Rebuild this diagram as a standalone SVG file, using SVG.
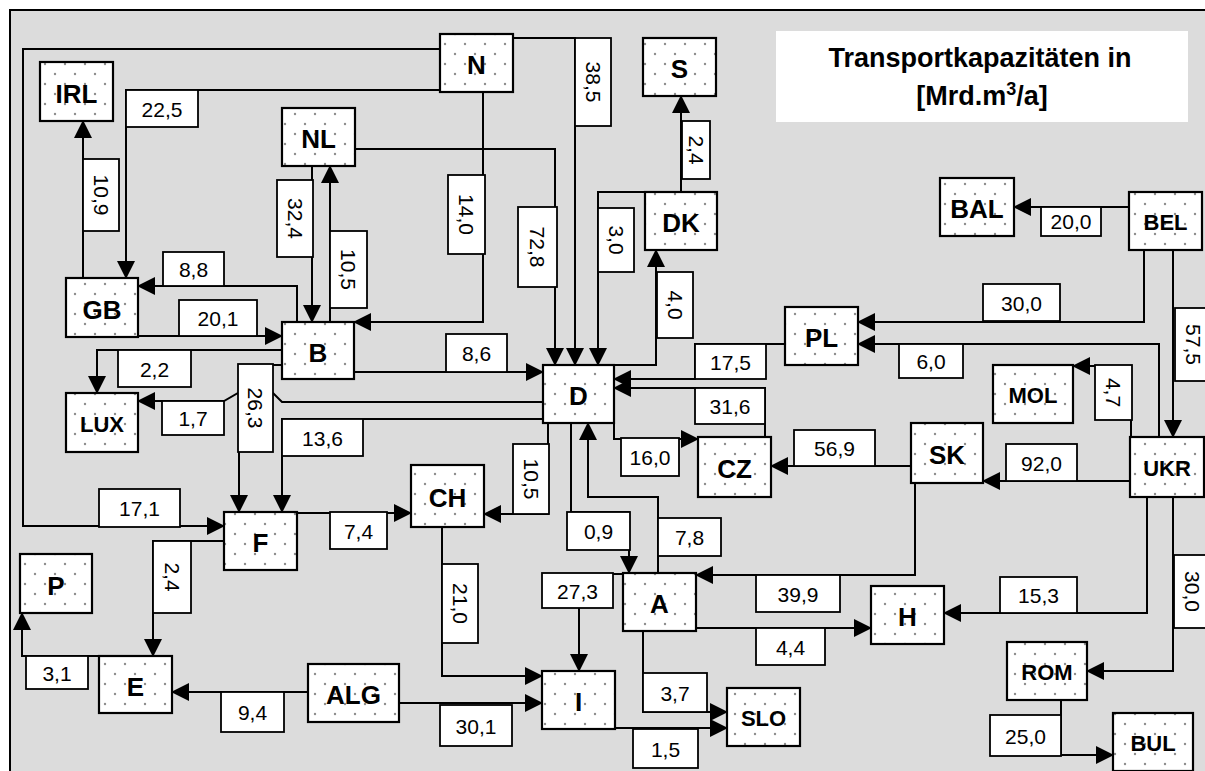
<svg xmlns="http://www.w3.org/2000/svg" width="1205" height="771" viewBox="0 0 1205 771">
<defs>
<pattern id="dots" patternUnits="userSpaceOnUse" width="20" height="20">
<rect width="20" height="20" fill="#ffffff"/>
<circle cx="5" cy="4" r="1.2" fill="#8c8c8c"/>
<circle cx="15" cy="14" r="1.2" fill="#8c8c8c"/>
</pattern>
<marker id="ah" viewBox="0 0 18 18" markerWidth="18" markerHeight="18" refX="17" refY="9" orient="auto" markerUnits="userSpaceOnUse">
<path d="M0,0 L18,9 L0,18 z" fill="#000"/>
</marker>
<style>
.node rect{fill:url(#dots);stroke:#000;stroke-width:2.2}
.node text{font-family:"Liberation Sans",Arial,sans-serif;font-weight:bold;font-size:26px;text-anchor:middle;fill:#000}
.node text.sm{font-size:22px}
.conn path{fill:none;stroke:#000;stroke-width:2;marker-end:url(#ah)}
.lbl rect{fill:#fff;stroke:#000;stroke-width:1.8}
.lbl text{font-family:"Liberation Sans",Arial,sans-serif;font-size:21px;text-anchor:middle;fill:#000}
.title{font-family:"Liberation Sans",Arial,sans-serif;font-weight:bold;font-size:27px;text-anchor:middle;fill:#000}
</style>
</defs>
<rect x="10" y="10" width="1210" height="780" fill="#dcdcdc" stroke="#000" stroke-width="2"/>
<g id="title">
<rect x="776" y="31" width="412" height="91" fill="#fff"/>
<text class="title" x="980" y="67">Transportkapazitäten in</text>
<text class="title" x="982" y="105">[Mrd.m<tspan font-size="18" dy="-10">3</tspan><tspan dy="10">/a]</tspan></text>
</g>
<g id="connectors" class="conn">
<path d="M83,278 V121"/>
<path d="M440,90 H126 V278"/>
<path d="M440,49 H23 V526 H224"/>
<path d="M513,38 H575 V365"/>
<path d="M483,92 V322 H354"/>
<path d="M355,149 H555 V365"/>
<path d="M312,166 V322"/>
<path d="M330,322 V166"/>
<path d="M681,192 V96"/>
<path d="M645,192 H598 V365"/>
<path d="M614,365 H656 V250"/>
<path d="M138,336 H282"/>
<path d="M297,322 V286 H138"/>
<path d="M282,350 H97 V393"/>
<path d="M543,402 H282 L273,393 H238 L224,401 H138"/>
<path d="M282,365 H239 V512"/>
<path d="M543,419 H282 V512"/>
<path d="M354,372 H543"/>
<path d="M297,513 H411"/>
<path d="M548,423 V514 H484"/>
<path d="M571,423 V512 H629 V573"/>
<path d="M658,573 V497 H588 V423"/>
<path d="M614,423 V439 H698"/>
<path d="M765,437 V388 H614"/>
<path d="M785,344 H695 V379 H614"/>
<path d="M1144,250 V322 H858"/>
<path d="M1159,437 V344 H858"/>
<path d="M1173,250 V437"/>
<path d="M1131,437 V366 H1073"/>
<path d="M1130,481 H983"/>
<path d="M911,466 H771"/>
<path d="M915,483 V575 H696"/>
<path d="M696,628 H871"/>
<path d="M1147,497 V613 H944"/>
<path d="M1173,497 V671 H1087"/>
<path d="M1061,700 V755 H1113"/>
<path d="M224,541 H153 V656"/>
<path d="M99,656 H22 V613"/>
<path d="M308,692 H172"/>
<path d="M399,703 H542"/>
<path d="M442,527 V676 H542"/>
<path d="M623,574 H579 V671"/>
<path d="M643,631 V712 H727"/>
<path d="M615,728 H727"/>
<path d="M1129,207 H1014"/>
</g>
<g id="labels" class="lbl">
<rect x="83" y="159" width="36" height="72"/><text transform="translate(101,195) rotate(90)" y="7.5">10,9</text>
<rect x="126" y="90" width="72" height="37"/><text x="162" y="116.5">22,5</text>
<rect x="99" y="489" width="81" height="38"/><text x="139.5" y="516">17,1</text>
<rect x="575" y="38" width="36" height="88"/><text transform="translate(593,82) rotate(90)" y="7.5">38,5</text>
<rect x="448" y="175" width="37" height="79"/><text transform="translate(466.5,214.5) rotate(90)" y="7.5">14,0</text>
<rect x="518" y="207" width="39" height="80"/><text transform="translate(537.5,247) rotate(90)" y="7.5">72,8</text>
<rect x="277" y="180" width="36" height="77"/><text transform="translate(295,218.5) rotate(90)" y="7.5">32,4</text>
<rect x="330" y="231" width="37" height="77"/><text transform="translate(348.5,269.5) rotate(90)" y="7.5">10,5</text>
<rect x="682" y="121" width="28" height="58"/><text transform="translate(696,150) rotate(90)" y="7.5">2,4</text>
<rect x="598" y="208" width="36" height="64"/><text transform="translate(616,240) rotate(90)" y="7.5">3,0</text>
<rect x="657" y="272" width="36" height="66"/><text transform="translate(675,305) rotate(90)" y="7.5">4,0</text>
<rect x="179" y="300" width="78" height="36"/><text x="218" y="326">20,1</text>
<rect x="163" y="252" width="61" height="34"/><text x="193.5" y="277">8,8</text>
<rect x="118" y="350" width="73" height="37"/><text x="154.5" y="376.5">2,2</text>
<rect x="162" y="401" width="62" height="34"/><text x="193" y="426">1,7</text>
<rect x="238" y="364" width="35" height="88"/><text transform="translate(255.5,408) rotate(90)" y="7.5">26,3</text>
<rect x="282" y="419" width="81" height="37"/><text x="322.5" y="445.5">13,6</text>
<rect x="446" y="334" width="61" height="38"/><text x="476.5" y="361">8,6</text>
<rect x="330" y="512" width="57" height="37"/><text x="358.5" y="538.5">7,4</text>
<rect x="513" y="444" width="36" height="70"/><text transform="translate(531,479) rotate(90)" y="7.5">10,5</text>
<rect x="567" y="512" width="63" height="38"/><text x="598.5" y="539">0,9</text>
<rect x="658" y="518" width="63" height="38"/><text x="689.5" y="545">7,8</text>
<rect x="621" y="438" width="58" height="38"/><text x="650" y="465">16,0</text>
<rect x="695" y="388" width="70" height="36"/><text x="730" y="414">31,6</text>
<rect x="695" y="344" width="71" height="35"/><text x="730.5" y="369.5">17,5</text>
<rect x="983" y="284" width="77" height="37"/><text x="1021.5" y="310.5">30,0</text>
<rect x="899" y="344" width="64" height="34"/><text x="931" y="369">6,0</text>
<rect x="1175" y="308" width="37" height="73"/><text transform="translate(1193.5,344.5) rotate(90)" y="7.5">57,5</text>
<rect x="1095" y="365" width="37" height="55"/><text transform="translate(1113.5,392.5) rotate(90)" y="7.5">4,7</text>
<rect x="1006" y="444" width="71" height="37"/><text x="1041.5" y="470.5">92,0</text>
<rect x="794" y="430" width="81" height="36"/><text x="834.5" y="456">56,9</text>
<rect x="756" y="575" width="84" height="37"/><text x="798" y="601.5">39,9</text>
<rect x="756" y="628" width="69" height="37"/><text x="790.5" y="654.5">4,4</text>
<rect x="1000" y="577" width="77" height="36"/><text x="1038.5" y="603">15,3</text>
<rect x="1174" y="555" width="37" height="73"/><text transform="translate(1192.5,591.5) rotate(90)" y="7.5">30,0</text>
<rect x="990" y="715" width="71" height="41"/><text x="1025.5" y="743.5">25,0</text>
<rect x="153" y="541" width="38" height="72"/><text transform="translate(172,577) rotate(90)" y="7.5">2,4</text>
<rect x="26" y="656" width="62" height="33"/><text x="57" y="680.5">3,1</text>
<rect x="221" y="692" width="63" height="40"/><text x="252.5" y="720">9,4</text>
<rect x="440" y="705" width="72" height="41"/><text x="476" y="733.5">30,1</text>
<rect x="442" y="564" width="36" height="79"/><text transform="translate(460,603.5) rotate(90)" y="7.5">21,0</text>
<rect x="542" y="573" width="71" height="35"/><text x="577.5" y="598.5">27,3</text>
<rect x="643" y="673" width="64" height="39"/><text x="675" y="700.5">3,7</text>
<rect x="633" y="729" width="65" height="39"/><text x="665.5" y="756.5">1,5</text>
<rect x="1041" y="207" width="60" height="29"/><text x="1071" y="229">20,0</text>
</g>
<g id="node-IRL" class="node"><rect x="40" y="62" width="73" height="59"/><text x="76.5" y="102.5">IRL</text></g>
<g id="node-N" class="node"><rect x="440" y="34" width="73" height="58"/><text x="476.5" y="74">N</text></g>
<g id="node-S" class="node"><rect x="643" y="38" width="73" height="58"/><text x="679.5" y="78">S</text></g>
<g id="node-NL" class="node"><rect x="282" y="108" width="73" height="58"/><text x="318.5" y="148">NL</text></g>
<g id="node-DK" class="node"><rect x="645" y="192" width="72" height="58"/><text x="681" y="232">DK</text></g>
<g id="node-BAL" class="node"><rect x="940" y="178" width="74" height="58"/><text x="977" y="218">BAL</text></g>
<g id="node-BEL" class="node"><rect x="1129" y="192" width="73" height="58"/><text class="sm" x="1165.5" y="230">BEL</text></g>
<g id="node-GB" class="node"><rect x="66" y="278" width="72" height="59"/><text x="102" y="318.5">GB</text></g>
<g id="node-B" class="node"><rect x="282" y="322" width="72" height="57"/><text x="318" y="361.5">B</text></g>
<g id="node-LUX" class="node"><rect x="66" y="393" width="72" height="59"/><text class="sm" x="102" y="431.5">LUX</text></g>
<g id="node-D" class="node"><rect x="543" y="365" width="71" height="58"/><text x="578.5" y="405">D</text></g>
<g id="node-PL" class="node"><rect x="785" y="307" width="73" height="58"/><text x="821.5" y="347">PL</text></g>
<g id="node-MOL" class="node"><rect x="993" y="365" width="80" height="58"/><text class="sm" x="1033" y="403">MOL</text></g>
<g id="node-CZ" class="node"><rect x="698" y="437" width="73" height="60"/><text x="734.5" y="478">CZ</text></g>
<g id="node-SK" class="node"><rect x="911" y="423" width="72" height="60"/><text x="947" y="464">SK</text></g>
<g id="node-UKR" class="node"><rect x="1130" y="437" width="74" height="60"/><text class="sm" x="1167" y="476">UKR</text></g>
<g id="node-F" class="node"><rect x="224" y="512" width="73" height="58"/><text x="260.5" y="552">F</text></g>
<g id="node-CH" class="node"><rect x="411" y="465" width="73" height="62"/><text x="447.5" y="507">CH</text></g>
<g id="node-P" class="node"><rect x="20" y="554" width="72" height="59"/><text x="56" y="594.5">P</text></g>
<g id="node-E" class="node"><rect x="99" y="656" width="73" height="57"/><text x="135.5" y="695.5">E</text></g>
<g id="node-ALG" class="node"><rect x="308" y="664" width="91" height="58"/><text x="353.5" y="704">ALG</text></g>
<g id="node-A" class="node"><rect x="623" y="573" width="73" height="58"/><text x="659.5" y="613">A</text></g>
<g id="node-I" class="node"><rect x="542" y="671" width="73" height="58"/><text x="578.5" y="711">I</text></g>
<g id="node-SLO" class="node"><rect x="727" y="688" width="73" height="58"/><text class="sm" x="763.5" y="726">SLO</text></g>
<g id="node-H" class="node"><rect x="871" y="586" width="73" height="58"/><text x="907.5" y="626">H</text></g>
<g id="node-ROM" class="node"><rect x="1007" y="642" width="80" height="58"/><text class="sm" x="1047" y="680">ROM</text></g>
<g id="node-BUL" class="node"><rect x="1113" y="713" width="80" height="58"/><text class="sm" x="1153" y="751">BUL</text></g>
</svg>
